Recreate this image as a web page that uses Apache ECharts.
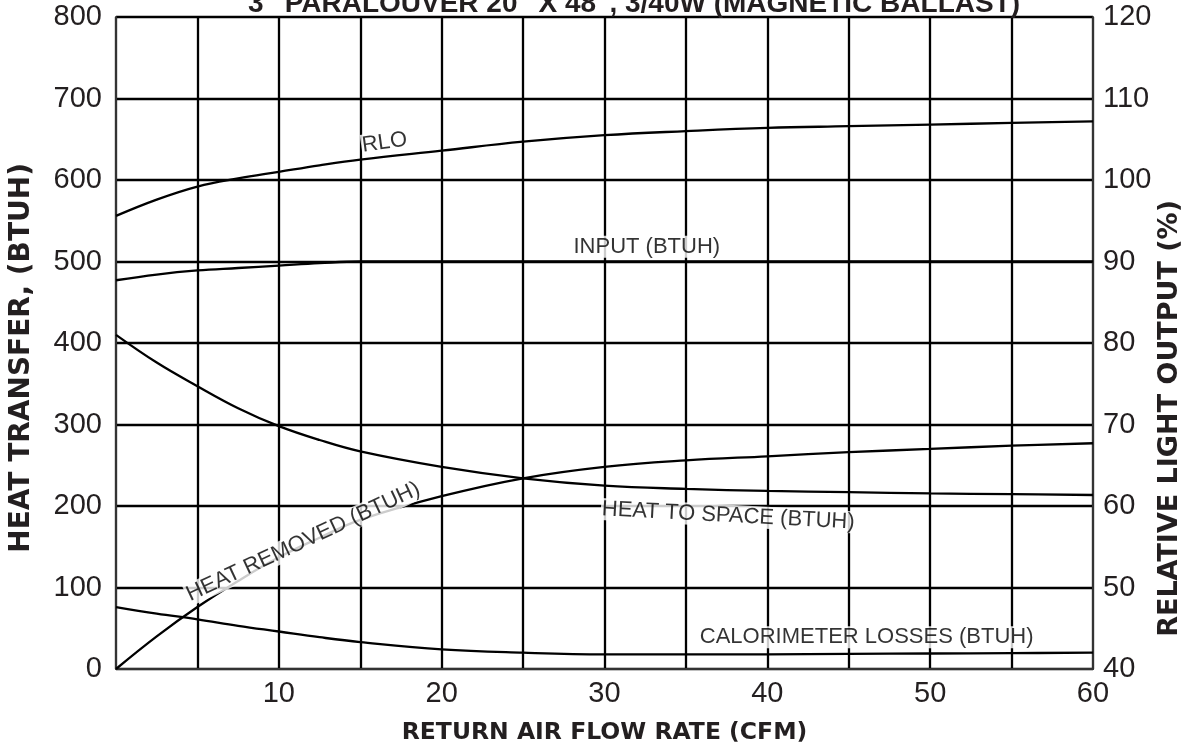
<!DOCTYPE html>
<html>
<head>
<meta charset="utf-8">
<script src="https://cdn.jsdelivr.net/npm/echarts@6/dist/echarts.min.js"></script>
<style>
html,body{margin:0;padding:0;background:#fff;}
#chart{width:1191px;height:752px;}
</style>
</head>
<body>
<div id="chart"></div>
<script>
var titleText = '3" PARALOUVER 20" X 48", 3/40W (MAGNETIC BALLAST)';
var xName = 'RETURN AIR FLOW RATE (CFM)';
var yLeftName = 'HEAT TRANSFER, (BTUH)';
var yRightName = 'RELATIVE LIGHT OUTPUT (%)';

var flowX = [0, 2.5, 5, 7.5, 10, 12.5, 15, 20, 25, 30, 35, 40, 45, 50, 55, 60];
var rloValues = [95.6, 97.6, 99.2, 100.2, 101.0, 101.8, 102.5, 103.6, 104.7, 105.5, 106.0, 106.4, 106.6, 106.8, 107.0, 107.2];
var inputValues = [477, 484, 489, 492, 495, 498, 500, 500, 500, 500, 500, 500, 500, 500, 500, 500];
var heatSpaceValues = [410, 376, 347, 320, 298, 281, 267, 248, 234, 225, 221, 218.5, 217, 215.5, 214.5, 213.5];
var heatRemovedValues = [0, 40, 76, 108, 137, 161, 183, 212, 234, 248, 256, 261, 266, 270, 274, 277];
var calorLossValues = [76, 68, 61, 53, 46, 39, 33, 24, 20, 18, 18, 18, 18.5, 19, 19.5, 20];

var leftTicks = {min: 0, max: 800, interval: 100};
var rightTicks = {min: 40, max: 120, interval: 10};
var xTicks = {min: 0, max: 60, interval: 5};

// curve labels: [x, y(left axis units), text, rotation]
var curveLabels = [
  [16.5, 646, 'RLO', 8],
  [32.6, 518, 'INPUT (BTUH)', 0],
  [37.6, 188, 'HEAT TO SPACE (BTUH)', -3],
  [11.5, 156, 'HEAT REMOVED (BTUH)', 25],
  [46.1, 39, 'CALORIMETER LOSSES (BTUH)', 0]
];

function pairs(xs, ys){ return xs.map(function(x,i){ return [x, ys[i]]; }); }

var textColor = '#231f20';
var fontFam = 'Liberation Sans, Arial, Helvetica, sans-serif';
var wideBold = 'DejaVu Sans, Liberation Sans, sans-serif';

var lineStyle = {color: '#000', width: 2.3};
function lineSeries(name, data, yIdx){
  return {
    name: name, type: 'line', data: data, yAxisIndex: yIdx || 0,
    smooth: 0.4, showSymbol: false, symbol: 'none',
    lineStyle: lineStyle, silent: true, z: 3
  };
}

var chart = echarts.init(document.getElementById('chart'), null, {renderer: 'canvas'});
chart.setOption({
  backgroundColor: '#fff',
  animation: false,
  title: {
    text: titleText, left: 243, top: -15,
    textStyle: {fontFamily: fontFam, fontWeight: 'bold', fontSize: 28, color: textColor}
  },
  graphic: [{
    type: 'text', left: 8, top: 163,
    rotation: Math.PI / 2,
    style: {text: yLeftName, fontFamily: wideBold, fontWeight: 'bold', fontSize: 28, fill: textColor}
  }, {
    type: 'text', left: 1156, top: 200,
    rotation: Math.PI / 2,
    style: {text: yRightName, fontFamily: wideBold, fontWeight: 'bold', fontSize: 27, fill: textColor}
  }],
  grid: {left: 116, right: 98, top: 17, height: 652, containLabel: false, outerBoundsMode: 'none'},
  xAxis: {
    type: 'value', min: xTicks.min, max: xTicks.max, interval: xTicks.interval,
    name: xName, nameLocation: 'middle', nameGap: 52,
    nameTextStyle: {fontFamily: wideBold, fontWeight: 'bold', fontSize: 23.5, color: textColor},
    axisLine: {show: true, lineStyle: {color: '#333', width: 2}},
    axisTick: {show: false},
    axisLabel: {
      fontFamily: fontFam, fontSize: 29, color: textColor, margin: 10,
      formatter: function(v){ return (v > 0 && v % 10 === 0) ? String(v) : ''; }
    },
    splitLine: {show: true, lineStyle: {color: '#000', width: 2.3}}
  },
  yAxis: [{
    type: 'value', min: leftTicks.min, max: leftTicks.max, interval: leftTicks.interval,
    position: 'left',
    axisLine: {show: true, lineStyle: {color: '#333', width: 2}},
    axisTick: {show: false},
    axisLabel: {fontFamily: fontFam, fontSize: 29, color: textColor, margin: 14},
    splitLine: {show: true, lineStyle: {color: '#000', width: 2.3}}
  }, {
    type: 'value', min: rightTicks.min, max: rightTicks.max, interval: rightTicks.interval,
    position: 'right',
    axisLine: {show: true, lineStyle: {color: '#333', width: 2}},
    axisTick: {show: false},
    axisLabel: {fontFamily: fontFam, fontSize: 29, color: textColor, margin: 10},
    splitLine: {show: false}
  }],
  series: [
    lineSeries('RLO', pairs(flowX, rloValues), 1),
    lineSeries('INPUT (BTUH)', pairs(flowX, inputValues), 0),
    lineSeries('HEAT TO SPACE (BTUH)', pairs(flowX, heatSpaceValues), 0),
    lineSeries('HEAT REMOVED (BTUH)', pairs(flowX, heatRemovedValues), 0),
    lineSeries('CALORIMETER LOSSES (BTUH)', pairs(flowX, calorLossValues), 0),
    {
      type: 'scatter', yAxisIndex: 0, symbolSize: 0, silent: true, z: 5,
      data: curveLabels.map(function(l){
        return {
          value: [l[0], l[1]],
          label: {
            show: true, position: 'inside', formatter: l[2], rotate: l[3],
            fontFamily: fontFam, fontSize: 22, color: '#000',
            backgroundColor: '#fff', padding: [0, 1]
          }
        };
      })
    }
  ]
});
</script>
</body>
</html>
